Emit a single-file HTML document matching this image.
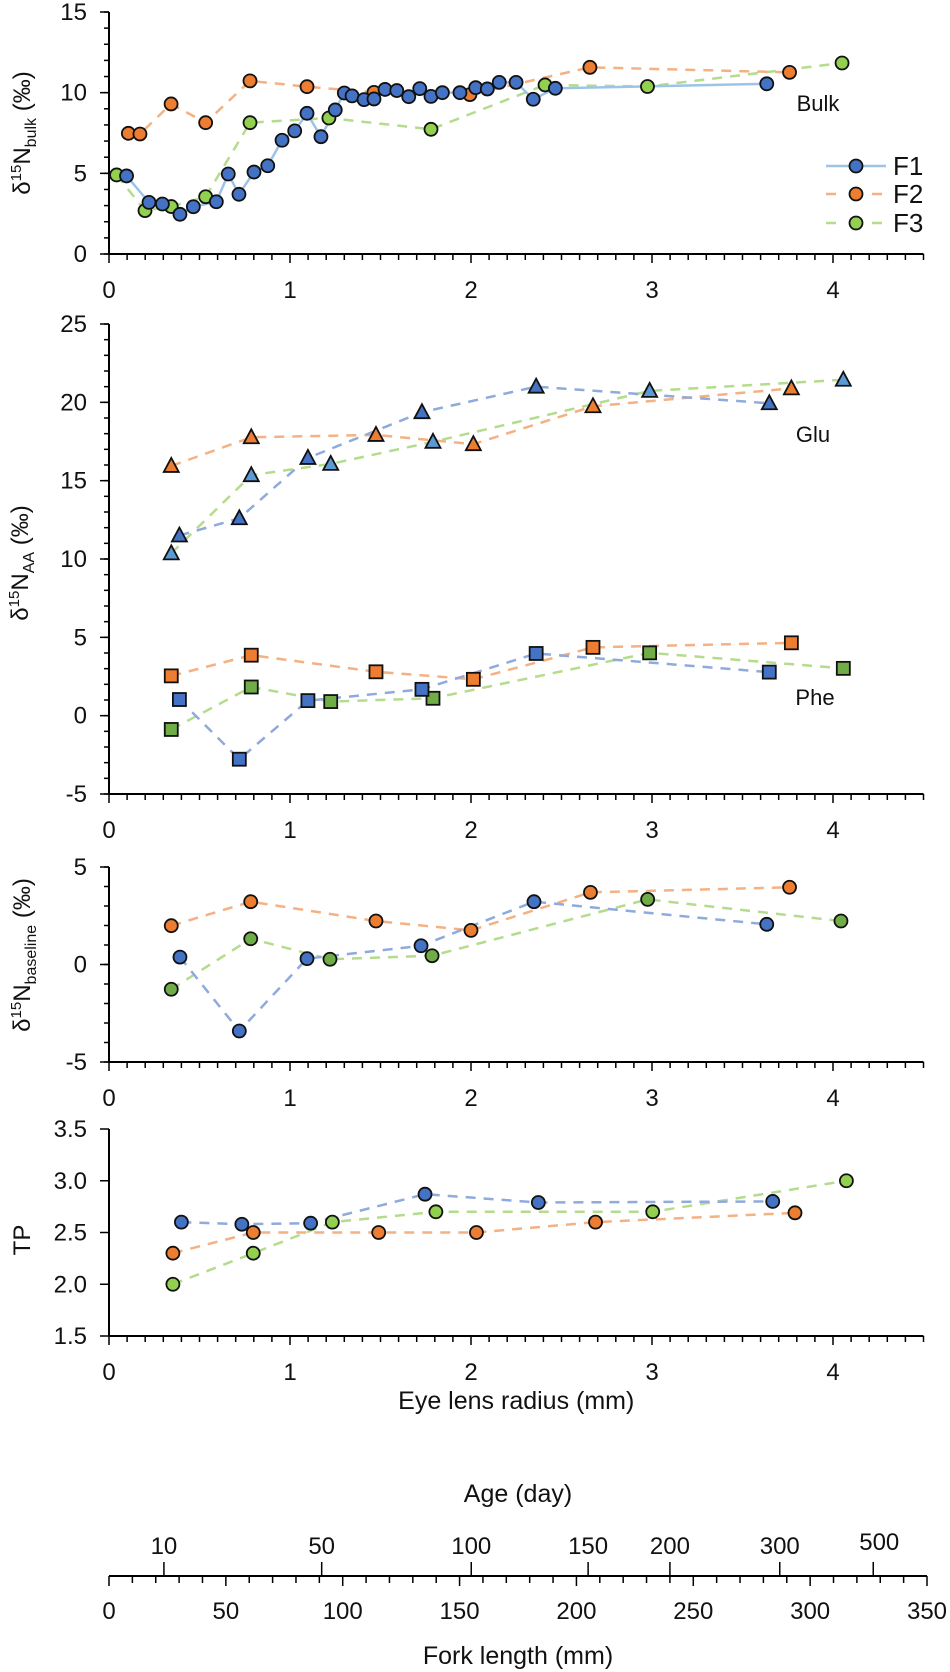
<!DOCTYPE html>
<html><head><meta charset="utf-8"><style>
html,body{margin:0;padding:0;background:#fff;}
svg{display:block;font-family:"Liberation Sans",Arial,sans-serif;}
</style></head><body>
<svg id="chart" width="950" height="1672" viewBox="0 0 950 1672" xmlns="http://www.w3.org/2000/svg"></svg>
<script>
// ---- data ----
const bulkF1X=[0.097,0.221,0.295,0.392,0.466,0.593,0.659,0.718,0.801,0.877,0.956,1.026,1.094,1.171,1.25,1.30,1.343,1.409,1.464,1.525,1.59,1.656,1.717,1.779,1.842,1.939,2.026,2.09,2.156,2.249,2.344,2.466,3.634];
const bulkF1Y=[4.84,3.2,3.1,2.46,2.93,3.24,4.96,3.7,5.08,5.47,7.05,7.63,8.72,7.27,8.93,9.98,9.8,9.57,9.61,10.2,10.13,9.75,10.25,9.77,10.0,10.0,10.31,10.23,10.64,10.64,9.59,10.27,10.55];
const bulkF2X=[0.107,0.171,0.343,0.534,0.779,1.094,1.464,1.994,2.657,3.76];
const bulkF2Y=[7.48,7.44,9.3,8.14,10.73,10.37,10.02,9.88,11.57,11.26];
const bulkF3X=[0.042,0.199,0.344,0.534,0.779,1.215,1.779,2.409,2.975,4.05];
const bulkF3Y=[4.9,2.69,2.94,3.55,8.14,8.43,7.73,10.48,10.38,11.84];

const gluF1X=[0.389,0.72,1.099,1.729,2.36,3.648];
const gluF1Y=[11.5,12.6,16.45,19.37,21.0,19.94];
const gluF2X=[0.344,0.786,1.475,2.013,2.674,3.77];
const gluF2Y=[15.94,17.77,17.92,17.33,19.75,20.89];
const gluF3X=[0.344,0.786,1.225,1.79,2.987,4.057];
const gluF3Y=[10.36,15.35,16.07,17.48,20.73,21.44];
const pheF1Y=[1.03,-2.78,0.96,1.68,3.97,2.78];
const pheF2Y=[2.54,3.86,2.8,2.32,4.36,4.65];
const pheF3Y=[-0.88,1.83,0.9,1.11,4.01,3.02];

const baseF1X=[0.392,0.72,1.094,1.724,2.348,3.634];
const baseF1Y=[0.38,-3.41,0.3,0.96,3.22,2.06];
const baseF2X=[0.344,0.783,1.475,2.0,2.66,3.76];
const baseF2Y=[1.99,3.22,2.23,1.75,3.70,3.96];
const baseF3X=[0.344,0.783,1.221,1.785,2.976,4.044];
const baseF3Y=[-1.27,1.32,0.27,0.45,3.34,2.23];

const tpF1X=[0.40,0.734,1.114,1.746,2.372,3.667];
const tpF1Y=[2.6,2.58,2.59,2.87,2.79,2.8];
const tpF2X=[0.353,0.797,1.49,2.03,2.688,3.79];
const tpF2Y=[2.3,2.5,2.5,2.5,2.6,2.69];
const tpF3X=[0.353,0.797,1.234,1.806,3.004,4.074];
const tpF3Y=[2.0,2.3,2.6,2.7,2.7,3.0];

const xTicks=[0,1,2,3,4];
const forkTicks=[0,50,100,150,200,250,300,350];
const ageLabels=["10","50","100","150","200","300","500"];
const ageAtFork=[23.5,91,155,205,240,287,327];

// ---- helpers ----
const NS="http://www.w3.org/2000/svg";
const svg=document.getElementById('chart');
function el(tag,attrs,parent){const e=document.createElementNS(NS,tag);for(const k in attrs)e.setAttribute(k,attrs[k]);(parent||svg).appendChild(e);return e;}
const X0=109,XU=181;
const X=v=>X0+XU*v;
function makeY(vTop,pTop,vBot,pBot){return v=>pTop+(vTop-v)*(pBot-pTop)/(vTop-vBot);}
const C={blue:"#4472C4",orange:"#ED7D31",green:"#92D050",dgreen:"#70AD47",lblue:"#5B9BD5",
  lnBlue:"#8FAADC",lnOrange:"#F4B183",lnGreen:"#B4DC8C",lnBulk:"#9DC3E6"};

function panel(name,vTop,pTop,vBot,pBot,major,minor,fmt){
  const Y=makeY(vTop,pTop,vBot,pBot);
  const g=el('g',{});
  
  
  el('line',{x1:X0,y1:pTop,x2:X0,y2:pBot,stroke:'#000','stroke-width':2},g);
  el('line',{x1:X0,y1:pBot,x2:X(4.5),y2:pBot,stroke:'#000','stroke-width':2},g);
  if(minor){for(let v=vBot;v<=vTop+1e-9;v+=minor){el('line',{x1:X0-5,y1:Y(v),x2:X0,y2:Y(v),stroke:'#000','stroke-width':1.5},g);}}
  for(let v=vBot;v<=vTop+1e-9;v+=major){
    el('line',{x1:X0-9,y1:Y(v),x2:X0,y2:Y(v),stroke:'#000','stroke-width':1.5},g);
    const t=el('text',{x:X0-22,y:Y(v)+8,'text-anchor':'end','font-size':24,fill:'#111'},g);
    
    
    t.textContent=fmt?v.toFixed(1):Math.round(v);
  }
  for(let i=0;i<=45;i++){const big=i%10===0;
    el('line',{x1:X(i/10),y1:pBot,x2:X(i/10),y2:pBot+(big?9:6),stroke:'#000','stroke-width':1.5},g);}
  xTicks.forEach(v=>{const t=el('text',{x:X(v),y:pBot+44,'text-anchor':'middle','font-size':24,fill:'#111'},g);
    
    
    t.textContent=v;});
  return Y;
}
function line(xs,ys,Y,color,dash,name,w){
  const p=el('polyline',{points:xs.map((x,i)=>X(x)+','+Y(ys[i])).join(' '),fill:'none',stroke:color,'stroke-width':w||2.5,'stroke-dasharray':dash?'10 8':'none'});
  
  
}
function marks(xs,ys,Y,shape,fill,name){
  xs.forEach((x,i)=>{const cx=X(x),cy=Y(ys[i]);let m;
    if(shape==='c')m=el('circle',{cx:cx,cy:cy,r:6.5,fill:fill,stroke:'#111','stroke-width':1.8});
    else if(shape==='s')m=el('rect',{x:cx-6.5,y:cy-6.5,width:13,height:13,fill:fill,stroke:'#111','stroke-width':1.8});
    else m=el('polygon',{points:`${cx},${cy-8} ${cx+7.5},${cy+6} ${cx-7.5},${cy+6}`,fill:fill,stroke:'#111','stroke-width':1.8});
    
    
  });
}
function text(x,y,s,size,name,anchor){const t=el('text',{x:x,y:y,'font-size':size,'text-anchor':anchor||'start',fill:'#111'});
  
  
  t.textContent=s;return t;}
function ytitle(cx,cy,main,sub,name){
  const t=el('text',{transform:`translate(${cx},${cy}) rotate(-90)`,'text-anchor':'middle','font-size':24,fill:'#111'});
  
  
  t.innerHTML=main==='TP'?'TP':`δ<tspan font-size="15" dy="-9">15</tspan><tspan dy="9">N</tspan><tspan font-size="16" dy="6">${sub}</tspan><tspan dy="-6"> (‰)</tspan>`;
}

// Panel 1 bulk
const Y1=panel('bulk-panel',15,12,0,254,5,1);
line(bulkF3X,bulkF3Y,Y1,C.lnGreen,true,'bulk-f3-line');
line(bulkF2X,bulkF2Y,Y1,C.lnOrange,true,'bulk-f2-line');
line(bulkF1X,bulkF1Y,Y1,C.lnBulk,false,'bulk-f1-line');
marks(bulkF2X,bulkF2Y,Y1,'c',C.orange,'bulk-f2-point');
marks(bulkF3X,bulkF3Y,Y1,'c',C.green,'bulk-f3-point');
marks(bulkF1X,bulkF1Y,Y1,'c',C.blue,'bulk-f1-point');
text(818,111,'Bulk',22,'bulk-label','middle');
ytitle(30,133,'d','bulk','bulk-y-axis-title');
// legend
[['F1',C.lnBulk,false,C.blue,166],['F2',C.lnOrange,true,C.orange,194],['F3',C.lnGreen,true,C.green,223]].forEach(([n,lc,d,fc,y])=>{
  const g=el('g',{});
  
  
  el('line',{x1:826,y1:y,x2:886,y2:y,stroke:lc,'stroke-width':2.5,'stroke-dasharray':d?'10 13':'none'},g);
  el('circle',{cx:856,cy:y,r:6.5,fill:fc,stroke:'#111','stroke-width':1.8},g);
  const t=el('text',{x:893,y:y+9,'font-size':26,fill:'#111'},g);t.textContent=n;
});

// Panel 2 AA
const Y2=panel('aa-panel',25,324,-5,794,5,1);
line(gluF2X,gluF2Y,Y2,C.lnOrange,true,'glu-f2-line');
line(gluF3X,gluF3Y,Y2,C.lnGreen,true,'glu-f3-line');
line(gluF1X,gluF1Y,Y2,C.lnBlue,true,'glu-f1-line');
line(gluF2X,pheF2Y,Y2,C.lnOrange,true,'phe-f2-line');
line(gluF3X,pheF3Y,Y2,C.lnGreen,true,'phe-f3-line');
line(gluF1X,pheF1Y,Y2,C.lnBlue,true,'phe-f1-line');
marks(gluF2X,gluF2Y,Y2,'t',C.orange,'glu-f2-point');
marks(gluF3X,gluF3Y,Y2,'t',C.lblue,'glu-f3-point');
marks(gluF1X,gluF1Y,Y2,'t',C.blue,'glu-f1-point');
marks(gluF2X,pheF2Y,Y2,'s',C.orange,'phe-f2-point');
marks(gluF3X,pheF3Y,Y2,'s',C.dgreen,'phe-f3-point');
marks(gluF1X,pheF1Y,Y2,'s',C.blue,'phe-f1-point');
text(813,442,'Glu',22,'glu-label','middle');
text(815,705,'Phe',22,'phe-label','middle');
ytitle(28,563,'d','AA','aa-y-axis-title');

// Panel 3 baseline
const Y3=panel('baseline-panel',5,867,-5,1062,5,1);
line(baseF2X,baseF2Y,Y3,C.lnOrange,true,'baseline-f2-line');
line(baseF3X,baseF3Y,Y3,C.lnGreen,true,'baseline-f3-line');
line(baseF1X,baseF1Y,Y3,C.lnBlue,true,'baseline-f1-line');
marks(baseF2X,baseF2Y,Y3,'c',C.orange,'baseline-f2-point');
marks(baseF3X,baseF3Y,Y3,'c',C.dgreen,'baseline-f3-point');
marks(baseF1X,baseF1Y,Y3,'c',C.blue,'baseline-f1-point');
ytitle(30,955,'d','baseline','baseline-y-axis-title');

// Panel 4 TP
const Y4=panel('tp-panel',3.5,1129,1.5,1336,0.5,0,true);
line(tpF2X,tpF2Y,Y4,C.lnOrange,true,'tp-f2-line');
line(tpF3X,tpF3Y,Y4,C.lnGreen,true,'tp-f3-line');
line(tpF1X,tpF1Y,Y4,C.lnBlue,true,'tp-f1-line');
marks(tpF2X,tpF2Y,Y4,'c',C.orange,'tp-f2-point');
marks(tpF3X,tpF3Y,Y4,'c',C.green,'tp-f3-point');
marks(tpF1X,tpF1Y,Y4,'c',C.blue,'tp-f1-point');
ytitle(30,1240,'TP','','tp-y-axis-title');
text(X(2.25),1409,'Eye lens radius (mm)',25,'x-axis-title','middle');

// Bottom fork/age axis
const F0=109,FU=(927-109)/350;const F=v=>F0+FU*v;const AY=1576;
const g2=el('g',{});


el('line',{x1:F(0),y1:AY,x2:F(350),y2:AY,stroke:'#000','stroke-width':2},g2);
for(let v=0;v<=350;v+=10){el('line',{x1:F(v),y1:AY,x2:F(v),y2:AY+(v%50===0?10:7),stroke:'#000','stroke-width':1.5},g2);}
forkTicks.forEach(v=>{const t=el('text',{x:F(v),y:AY+43,'text-anchor':'middle','font-size':24,fill:'#111'},g2);
  
  
  t.textContent=v;});
ageAtFork.forEach((v,i)=>{el('line',{x1:F(v),y1:AY,x2:F(v),y2:AY-14,stroke:'#000','stroke-width':1.5},g2);
  const t=el('text',{x:F(v)+(i===6?6:0),y:AY-22-(i===6?4:0),'text-anchor':'middle','font-size':24,fill:'#111'},g2);
  
  
  t.textContent=ageLabels[i];});
text(F(175),1502,'Age (day)',25,'age-axis-title','middle');
text(F(175),1664,'Fork length (mm)',25,'fork-axis-title','middle');
</script>
</body></html>
